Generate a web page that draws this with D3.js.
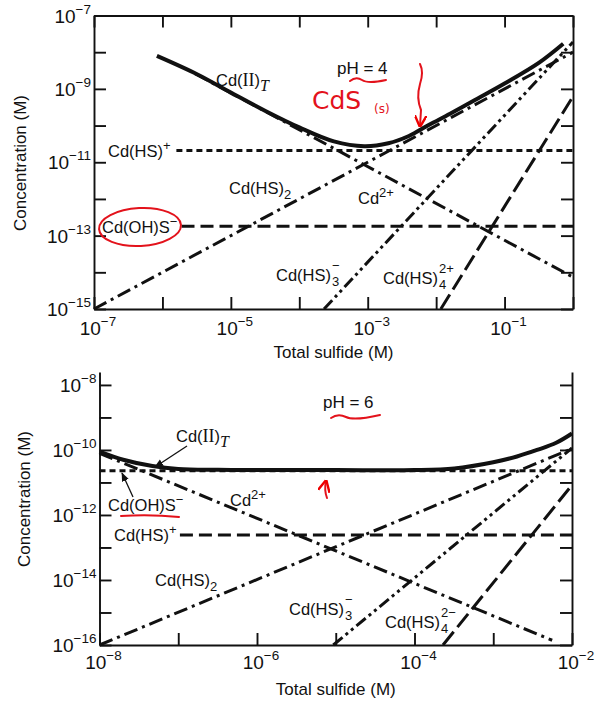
<!DOCTYPE html>
<html><head><meta charset="utf-8">
<script src="https://cdn.jsdelivr.net/npm/d3@7"></script>
<style>
body{margin:0;background:#fff}
svg{display:block}
text{font-family:"Liberation Sans",Arial,sans-serif;fill:#111}
</style>
</head><body>
<svg id="c" width="602" height="703"></svg>
<script>
// ---------------- DATA ----------------
// Top panel (pH = 4)
const topXTicks = [1e-7,1e-6,1e-5,1e-4,1e-3,1e-2,1e-1,1];
const topYTicks = [1e-15,1e-14,1e-13,1e-12,1e-11,1e-10,1e-9,1e-8,1e-7];
const topXLabelExps = [-7,-5,-3,-1];
const topYLabelExps = [-7,-9,-11,-13,-15];
const topCdHSplus = [[1.6e-6,2.1e-11],[1,2.1e-11]];
const topCdOHS    = [[1.9e-6,1.8e-13],[1,1.8e-13]];
const topCdHS2    = [[1e-7,1e-15],[1,1e-8]];
const topCd2      = [[3e-6,2.6e-9],[1,7.4e-15]];
const topCdHS3    = [[2.3e-4,1e-15],[1,1.9e-8]];
const topCdHS4    = [[1.17e-2,1e-15],[1,6.2e-10]];
const topTotal = [[8.3e-7,7.9e-9],[3.2e-6,2.5e-9],[1e-5,7.9e-10],[3.2e-5,2.5e-10],[1e-4,8.9e-11],
  [3.2e-4,3.7e-11],[8.9e-4,2.75e-11],[2e-3,3.3e-11],[4e-3,5.2e-11],[7.9e-3,1.05e-10],
  [1.6e-2,2.1e-10],[4e-2,5.4e-10],[0.1,1.4e-9],[0.32,5.2e-9],[0.72,1.7e-8]];

// Bottom panel (pH = 6)
const botXTicks = [1e-8,1e-7,1e-6,1e-5,1e-4,1e-3,1e-2];
const botYTicks = [1e-16,1e-15,1e-14,1e-13,1e-12,1e-11,1e-10,1e-9,1e-8];
const botXLabelExps = [-8,-6,-4,-2];
const botYLabelExps = [-8,-10,-12,-14,-16];
const botCdOHS    = [[1e-8,2.3e-11],[1e-2,2.3e-11]];
const botCdHSplus = [[1.05e-7,2.4e-13],[1e-2,2.4e-13]];
const botCd2      = [[1e-8,7.9e-11],[5.6e-3,1.4e-16]];
const botCdHS2    = [[1e-8,1e-16],[1e-2,1.1e-10]];
const botCdHS3    = [[9.3e-6,1e-16],[1e-2,1.15e-10]];
const botCdHS4    = [[2.3e-4,1e-16],[1e-2,8.3e-12]];
const botTotal = [[1e-8,8.9e-11],[2e-8,5.0e-11],[4.7e-8,3.2e-11],[1e-7,2.6e-11],[3.2e-7,2.45e-11],
  [1e-6,2.4e-11],[1e-5,2.4e-11],[1e-4,2.4e-11],[3.2e-4,2.7e-11],[1e-3,4.2e-11],[2e-3,6.3e-11],
  [3.6e-3,1.0e-10],[6.3e-3,1.66e-10],[1e-2,3.2e-10]];

// ---------------- DRAWING ----------------
const svg = d3.select("#c");
const INK = "#111";
const STYLES = {
  total:   {w:4.0, dash:null},
  shortD:  {w:3.0, dash:"6,4"},
  longD:   {w:3.0, dash:"13,6"},
  dashDot: {w:3.0, dash:"14,5,3,5"},
  dashDD:  {w:3.0, dash:"12,4,3,4,3,4"},
  longD2:  {w:3.0, dash:"17,6"}
};

function sup(textSel, base, exp, bigSize, smallSize){
  textSel.append("tspan").attr("font-size", bigSize).text(base);
  textSel.append("tspan").attr("font-size", smallSize).attr("dy", -9).text(exp);
}

function drawPanel(cfg){
  const g = svg.append("g");
  const x = d3.scaleLog().domain(cfg.xd).range(cfg.xr);
  const y = d3.scaleLog().domain(cfg.yd).range(cfg.yr);
  const axStyle = a => a.selectAll("path,line").attr("stroke", INK).attr("stroke-width", 1.9);
  const [x0,x1] = cfg.xr, [yb,yt] = cfg.yr;

  const gb = g.append("g").attr("transform",`translate(0,${yb})`)
    .call(d3.axisBottom(x).tickValues(cfg.xTicks).tickSize(-12).tickSizeOuter(0).tickFormat(""));
  const gl = g.append("g").attr("transform",`translate(${x0},0)`)
    .call(d3.axisLeft(y).tickValues(cfg.yTicks).tickSize(-12).tickSizeOuter(0).tickFormat(""));
  const gr = g.append("g").attr("transform",`translate(${x1},0)`)
    .call(d3.axisRight(y).tickValues(cfg.yTicks).tickSize(-12).tickSizeOuter(0).tickFormat(""));
  [gb,gl,gr].forEach(axStyle);
  if (cfg.topAxis){
    const gt = g.append("g").attr("transform",`translate(0,${yt})`)
      .call(d3.axisTop(x).tickValues(cfg.xTicks).tickSize(-12).tickSizeOuter(0).tickFormat(""));
    axStyle(gt);
  }

  // tick labels
  cfg.xLabelExps.forEach(e=>{
    const t = g.append("text").attr("x", x(Math.pow(10,e))+4).attr("y", yb+cfg.xLabelDy).attr("text-anchor","middle");
    sup(t, "10", "\u2212"+Math.abs(e), 19, 13.5);
  });
  cfg.yLabelExps.forEach(e=>{
    const t = g.append("text").attr("x", x0-3).attr("y", y(Math.pow(10,e))+7).attr("text-anchor","end");
    sup(t, "10", "\u2212"+Math.abs(e), 19, 13.5);
  });
  g.append("text").attr("x", (x0+x1)/2).attr("y", cfg.xTitleY).attr("text-anchor","middle")
    .attr("font-size",17).text("Total sulfide (M)");
  g.append("text").attr("transform",`translate(${cfg.yTitleX},${cfg.yTitleY}) rotate(-90)`)
    .attr("text-anchor","middle").attr("font-size",17).text("Concentration (M)");

  const line = d3.line().x(d=>x(d[0])).y(d=>y(d[1]));
  cfg.series.forEach(s=>{
    const st = STYLES[s.style];
    g.append("path").datum(s.data)
      .attr("d", s.smooth ? line.curve(d3.curveCatmullRom.alpha(0.5))(s.data) : line.curve(d3.curveLinear)(s.data))
      .attr("fill","none").attr("stroke",INK).attr("stroke-width",st.w)
      .attr("stroke-dasharray",st.dash).attr("stroke-linecap","butt");
  });
  return {g,x,y};
}

const topPanel = drawPanel({
  xd:[1e-7,1], xr:[94,573], yd:[1e-15,1e-7], yr:[309,15.5],
  xTicks:topXTicks, yTicks:topYTicks, xLabelExps:topXLabelExps, yLabelExps:topYLabelExps,
  topAxis:true, xLabelDy:26, xTitleY:358, yTitleX:26, yTitleY:163,
  series:[
    {data:topCdHSplus, style:"shortD"},
    {data:topCdOHS, style:"longD"},
    {data:topCdHS2, style:"dashDot"},
    {data:topCd2, style:"dashDot"},
    {data:topCdHS3, style:"dashDD"},
    {data:topCdHS4, style:"longD2"},
    {data:topTotal, style:"total", smooth:true}
  ]
});

const botPanel = drawPanel({
  xd:[1e-8,1e-2], xr:[99.5,572], yd:[1e-16,2.5e-8], yr:[645,372],
  xTicks:botXTicks, yTicks:botYTicks, xLabelExps:botXLabelExps, yLabelExps:botYLabelExps,
  topAxis:false, xLabelDy:24, xTitleY:695, yTitleX:30, yTitleY:499,
  series:[
    {data:botCdOHS, style:"shortD"},
    {data:botCdHSplus, style:"longD"},
    {data:botCd2, style:"dashDot"},
    {data:botCdHS2, style:"dashDot"},
    {data:botCdHS3, style:"dashDD"},
    {data:botCdHS4, style:"longD2"},
    {data:botTotal, style:"total", smooth:true}
  ]
});

// ---------- species labels ----------
function label(x, y, parts, size){
  const t = svg.append("text").attr("x",x).attr("y",y).attr("font-size",size||16.5);
  parts.forEach(p=>{
    const s = t.append("tspan").text(p.t);
    if (p.dy) s.attr("dy",p.dy);
    if (p.dx) s.attr("dx",p.dx);
    if (p.fs) s.attr("font-size",p.fs);
    if (p.font) s.style("font-family",p.font);
    if (p.italic) s.attr("font-style","italic");
  });
  return t;
}
const SERIF = '"Liberation Serif","Times New Roman",serif';
function cdT(x,y){ return label(x,y,[{t:"Cd("},{t:"II",font:SERIF,fs:18},{t:")"},{t:"T",font:SERIF,italic:true,fs:16,dy:5}]); }
// stacked subscript / superscript, each drawn as its own small text right of "Cd(HS)"
function hs(x,y,sub,supTxt){
  const t = label(x,y,[{t:"Cd(HS)"}]);
  const w = t.node().getComputedTextLength();
  svg.append("text").attr("x",x+w+1).attr("y",y+5).attr("font-size",13).text(sub);
  svg.append("text").attr("x",x+w+1).attr("y",y-11).attr("font-size",13).text(supTxt);
  return t;
}

// top
cdT(216,86);
label(337,74,[{t:"pH = 4"}],17);
label(108,157,[{t:"Cd(HS)"},{t:"+",fs:13,dy:-7}]);
label(229,194,[{t:"Cd(HS)"},{t:"2",fs:13,dy:5}]);
label(358,204,[{t:"Cd"},{t:"2+",fs:13,dy:-7}]);
label(102,233,[{t:"Cd(OH)S"},{t:"\u2212",fs:13,dy:-7}]);
hs(276,281,"3","\u2212");
hs(383,284,"4","2+");

// bottom
cdT(176,442);
label(323,408,[{t:"pH = 6"}],17);
label(108,511,[{t:"Cd(OH)S"},{t:"\u2212",fs:13,dy:-7}]);
label(230,506,[{t:"Cd"},{t:"2+",fs:13,dy:-7}]);
label(114,541,[{t:"Cd(HS)"},{t:"+",fs:13,dy:-7}]);
label(155,586,[{t:"Cd(HS)"},{t:"2",fs:13,dy:5}]);
hs(289,615,"3","\u2212");
hs(385,628,"4","2\u2212");

// pointer arrows (bottom)
const defs = svg.append("defs");
defs.append("marker").attr("id","ah").attr("viewBox","0 0 10 10").attr("refX",9).attr("refY",5)
  .attr("markerWidth",7).attr("markerHeight",7).attr("orient","auto")
  .append("path").attr("d","M0,1 L10,5 L0,9 Z").attr("fill",INK);
defs.append("marker").attr("id","ahr").attr("viewBox","0 0 10 10").attr("refX",9).attr("refY",5)
  .attr("markerWidth",6).attr("markerHeight",6).attr("orient","auto")
  .append("path").attr("d","M0,0 L10,5 L0,10").attr("fill","none").attr("stroke","#e00").attr("stroke-width",2);
svg.append("line").attr("x1",187).attr("y1",446).attr("x2",155).attr("y2",467)
  .attr("stroke",INK).attr("stroke-width",1.3).attr("marker-end","url(#ah)");
svg.append("line").attr("x1",133).attr("y1",497).attr("x2",122).attr("y2",473)
  .attr("stroke",INK).attr("stroke-width",1.3).attr("marker-end","url(#ah)");

// ---------- red hand annotations ----------
const RED = "#e3121b";
const red = svg.append("g").attr("fill","none").attr("stroke",RED).attr("stroke-width",2).attr("stroke-linecap","round");
red.append("path").attr("d","M350,81 Q356,76 362,80 T386,80");
red.append("path").attr("d","M420,64 Q424,72 420,84 Q416,98 421,110 L420,126").attr("marker-end","url(#ahr)");
red.append("ellipse").attr("cx",140).attr("cy",227).attr("rx",41).attr("ry",19).attr("transform","rotate(-3,140,227)");
red.append("path").attr("d","M331,418 Q338,413 346,417 T380,415");
red.append("path").attr("d","M121,516 Q150,514 179,517");
red.append("path").attr("d","M327,498 Q324,490 326,481").attr("marker-end","url(#ahr)");
svg.append("text").attr("x",312).attr("y",109).attr("font-size",25)
  .style("font-family",'"DejaVu Sans",sans-serif').style("fill",RED).text("CdS");
svg.append("text").attr("x",374).attr("y",113).attr("font-size",12).style("fill",RED)
  .style("font-family",'"DejaVu Sans",sans-serif').text("(s)");
</script>
</body></html>
